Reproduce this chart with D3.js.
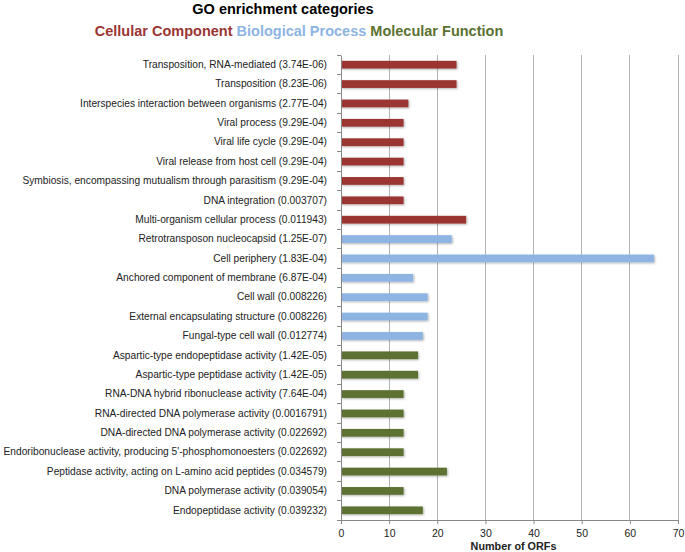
<!DOCTYPE html>
<html><head><meta charset="utf-8">
<script src="https://cdn.jsdelivr.net/npm/d3@7"></script>
<style>body{margin:0;background:#fff}svg{display:block}text{font-family:"Liberation Sans",Arial,Helvetica,sans-serif}</style>
</head><body>
<svg id="chart" width="685" height="552"></svg>
<script>
const categories = [
  "Transposition, RNA-mediated (3.74E-06)",
  "Transposition (8.23E-06)",
  "Interspecies interaction between organisms (2.77E-04)",
  "Viral process (9.29E-04)",
  "Viral life cycle (9.29E-04)",
  "Viral release from host cell (9.29E-04)",
  "Symbiosis, encompassing mutualism through parasitism (9.29E-04)",
  "DNA integration (0.003707)",
  "Multi-organism cellular process (0.011943)",
  "Retrotransposon nucleocapsid (1.25E-07)",
  "Cell periphery (1.83E-04)",
  "Anchored component of membrane (6.87E-04)",
  "Cell wall (0.008226)",
  "External encapsulating structure (0.008226)",
  "Fungal-type cell wall (0.012774)",
  "Aspartic-type endopeptidase activity (1.42E-05)",
  "Aspartic-type peptidase activity (1.42E-05)",
  "RNA-DNA hybrid ribonuclease activity (7.64E-04)",
  "RNA-directed DNA polymerase activity (0.0016791)",
  "DNA-directed DNA polymerase activity (0.022692)",
  "Endoribonuclease activity, producing 5'-phosphomonoesters (0.022692)",
  "Peptidase activity, acting on L-amino acid peptides (0.034579)",
  "DNA polymerase activity (0.039054)",
  "Endopeptidase activity (0.039232)"
];
const values = [24,24,14,13,13,13,13,13,26,23,65,15,18,18,17,16,16,13,13,13,13,22,13,17];
const groups = ["CC","CC","CC","CC","CC","CC","CC","CC","CC","BP","BP","BP","BP","BP","BP","MF","MF","MF","MF","MF","MF","MF","MF","MF"];
const groupNames = ["Cellular Component","Biological Process","Molecular Function"];
const groupKeys = ["CC","BP","MF"];
const groupColors = ["#9b3533","#8db4e3","#5b7131"];
const xTicks = [0,10,20,30,40,50,60,70];
const title = "GO enrichment categories";
const xTitle = "Number of ORFs";

const svg = d3.select("#chart");
const W = 685, H = 552;
const m = {left:341, right:7, top:55, bottom:32};
const x = d3.scaleLinear().domain([0,70]).range([m.left, W - m.right]);
const y = d3.scaleBand().domain(categories).range([m.top, H - m.bottom]).paddingInner(0.6).paddingOuter(0.3);
const yb = d3.scaleBand().domain(categories).range([m.top, H - m.bottom]);
const color = d3.scaleOrdinal().domain(groupKeys).range(groupColors);

const defs = svg.append("defs");
const f = defs.append("filter").attr("id","sh").attr("x","-5%").attr("y","-30%").attr("width","110%").attr("height","180%");
f.append("feDropShadow").attr("dx",1).attr("dy",1).attr("stdDeviation",0.8).attr("flood-color","#000").attr("flood-opacity",0.3);

// gridlines
svg.append("g").selectAll("line").data(xTicks.slice(1)).join("line")
  .attr("x1",d=>x(d)).attr("x2",d=>x(d)).attr("y1",m.top).attr("y2",H-m.bottom)
  .attr("stroke","#b3b3b3").attr("stroke-width",1).attr("shape-rendering","crispEdges");

// bars
svg.append("g").selectAll("rect").data(categories).join("rect")
  .attr("x", x(0)).attr("y", d=>y(d)).attr("height", y.bandwidth())
  .attr("width", (d,i)=>x(values[i]) - x(0))
  .attr("fill", (d,i)=>color(groups[i])).attr("filter","url(#sh)");

// left axis
const yAxis = d3.axisLeft(yb).tickSize(0).tickPadding(14);
const gy = svg.append("g").attr("transform",`translate(${x(0)},0)`).call(yAxis);
gy.select(".domain").attr("stroke","#888");
gy.selectAll(".tick text").attr("font-size","10.2px").attr("fill","#222");
// left boundary ticks
const bounds = categories.map(c=>yb(c)).concat([H-m.bottom]);
svg.append("g").selectAll("line").data(bounds).join("line")
  .attr("x1",x(0)-4).attr("x2",x(0)).attr("y1",d=>d).attr("y2",d=>d)
  .attr("stroke","#888").attr("shape-rendering","crispEdges");

// bottom axis
const xAxis = d3.axisBottom(x).tickValues(xTicks).tickSize(4).tickPadding(6);
const gx = svg.append("g").attr("transform",`translate(0,${H-m.bottom})`).call(xAxis);
gx.select(".domain").attr("stroke","#888");
gx.selectAll(".tick line").attr("stroke","#888");
gx.selectAll(".tick text").attr("font-size","10.5px").attr("fill","#222");

svg.append("text").attr("x",(x(0)+x(70))/2 + 4).attr("y",550).attr("text-anchor","middle")
  .attr("font-size","10.8px").attr("font-weight","bold").attr("fill","#222").text(xTitle);

svg.append("text").attr("x",283).attr("y",14).attr("text-anchor","middle")
  .attr("font-size","14.5px").attr("font-weight","bold").attr("fill","#000").text(title);

const leg = svg.append("text").attr("x",299).attr("y",36).attr("text-anchor","middle")
  .attr("font-size","14.5px").attr("font-weight","bold");
groupNames.forEach((n,i)=>{
  leg.append("tspan").attr("fill",groupColors[i]).text((i>0?" ":"")+n);
});
</script>
</body></html>
